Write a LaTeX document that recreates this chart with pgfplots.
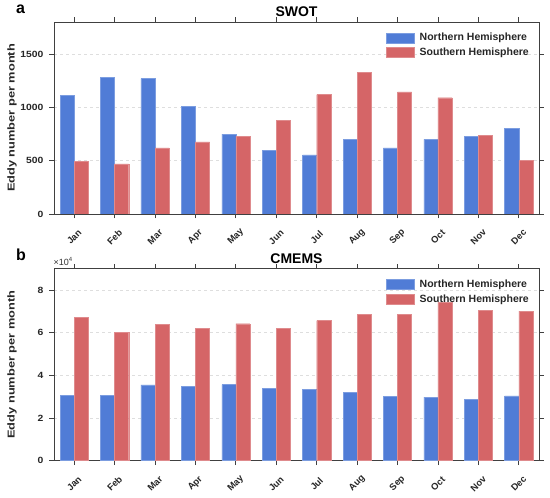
\documentclass[border=0pt]{standalone}
\usepackage{fontspec}
\setmainfont{Liberation Sans}
\usepackage{graphicx}
\usepackage{pgfplots}
\pgfplotsset{compat=1.18}
\newcommand\ws[1]{\scalebox{1.15}[1]{#1}}
\definecolor{nhblue}{RGB}{80,124,214}
\definecolor{shred}{RGB}{213,101,103}
\definecolor{axgray}{RGB}{64,64,64}
\pgfplotsset{
 myaxis/.style={
  scale only axis, width=485pt, height=192pt,
  xmin=0.5, xmax=12.5, ymin=0,
  xtick={1,...,12},
  xticklabels={Jan,Feb,Mar,Apr,May,Jun,Jul,Aug,Sep,Oct,Nov,Dec},
  tick align=outside, major tick length=4.5pt,
  minor tick num=0,
  axis line style={axgray, line width=0.9pt},
  every tick/.style={axgray, line width=0.9pt},
  ymajorgrids, grid style={black!13, dash pattern=on 3pt off 3pt, line width=0.6pt},
  ybar=0pt, bar width=14.1pt,
  /pgf/number format/assume math mode=true,
  /pgf/number format/1000 sep={},
  yticklabel={\ws{\axisdefaultticklabel}},
  yticklabel style={font=\bfseries\fontsize{9}{10}\selectfont, text=black!85, xshift=-2.5pt},
  xticklabel style={font=\bfseries\fontsize{9.3}{10}\selectfont, yshift=-18.5pt, rotate=45, anchor=center, text=black!85},
  ylabel={\scalebox{1.28}[1]{Eddy number per month}},
  every axis y label/.style={at={(axis description cs:-0.0866,0.5)}, rotate=90, anchor=center, font=\bfseries\fontsize{10}{11}\selectfont, text=black!85},
  title style={font=\bfseries\fontsize{14}{15}\selectfont, yshift=-4pt},
  legend style={at={(1,1)}, anchor=north east, xshift=-8pt, yshift=-9pt, draw=none, fill=none, font=\bfseries\fontsize{10.5}{12}\selectfont, text=black!85, inner sep=0pt, row sep=1.5pt},
  legend cell align=left,
 },
 legbar/.style={legend image code/.code={\fill[##1] (0pt,-5pt) rectangle (28pt,5pt); \path (31pt,0pt);}},
}
\begin{document}
\begin{tikzpicture}[x=1pt,y=1pt]
\path[use as bounding box] (0,0) rectangle (550,498);
\begin{axis}[myaxis, at={(54pt,284pt)}, anchor=south west, ymax=1800, ytick={0,500,1000,1500}, title={SWOT}]
\addplot[fill=nhblue, draw=nhblue!75!white, line width=0.4pt, legbar] coordinates {
(1,1110) (2,1280) (3,1270) (4,1010) (5,748) (6,595) (7,555) (8,700) (9,620) (10,700) (11,730) (12,805)};
\addplot[fill=shred, draw=shred!75!white, line width=0.4pt, legbar] coordinates {
(1,495) (2,470) (3,620) (4,675) (5,730) (6,880) (7,1120) (8,1330) (9,1145) (10,1090) (11,740) (12,500)};
\legend{Northern Hemisphere, Southern Hemisphere}
\end{axis}
\begin{axis}[myaxis, at={(54pt,37.3pt)}, anchor=south west, ymax=90000, ytick={0,20000,40000,60000,80000},
  scaled y ticks=base 10:-4,
  ytick scale label code/.code={×10\textsuperscript{#1}},
  every y tick scale label/.style={at={(0,1)}, anchor=south west, inner sep=0pt, xshift=2pt, yshift=3pt, font=\fontsize{9}{10}\selectfont, text=black!80},
  title={CMEMS}]
\addplot[fill=nhblue, draw=nhblue!75!white, line width=0.4pt, legbar] coordinates {
(1,30500) (2,30500) (3,35500) (4,34900) (5,35700) (6,34000) (7,33300) (8,31900) (9,30100) (10,29800) (11,28800) (12,30400)};
\addplot[fill=shred, draw=shred!75!white, line width=0.4pt, legbar] coordinates {
(1,67100) (2,60300) (3,64000) (4,62000) (5,64200) (6,62000) (7,65700) (8,68500) (9,68500) (10,74300) (11,70400) (12,70100)};
\legend{Northern Hemisphere, Southern Hemisphere}
\end{axis}
\node[anchor=base west, font=\bfseries\fontsize{16}{16}\selectfont, inner sep=0pt] at (16,484) {a};
\node[anchor=base west, font=\bfseries\fontsize{16}{16}\selectfont, inner sep=0pt] at (16,237) {b};
\end{tikzpicture}
\end{document}
